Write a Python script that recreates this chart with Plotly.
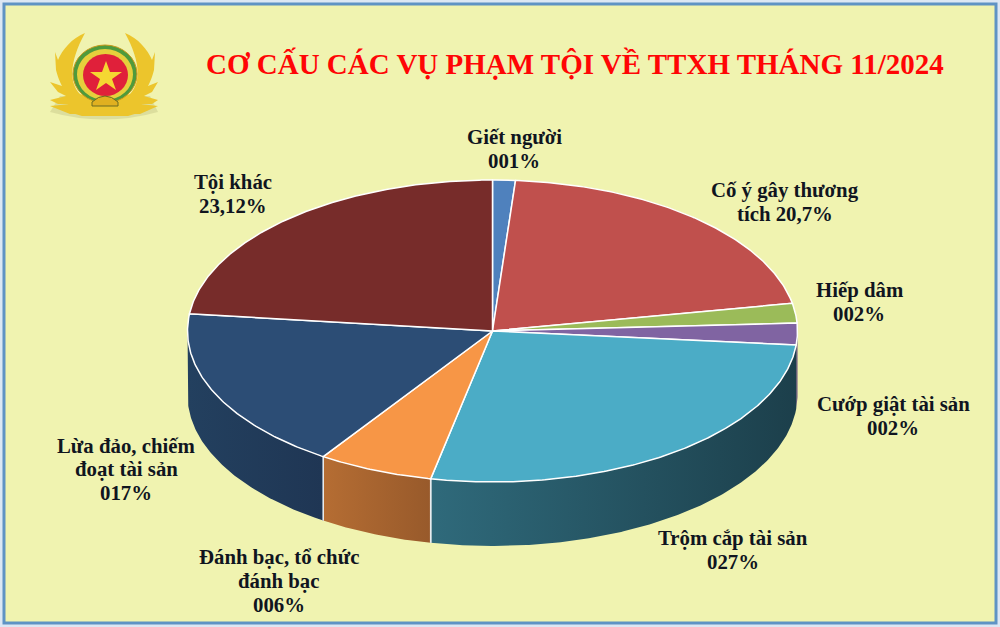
import math
import plotly.graph_objects as go

categories = ["Giết người", "Cố ý gây thương tích", "Hiếp dâm", "Cướp giật tài sản",
              "Trộm cắp tài sản", "Đánh bạc, tổ chức đánh bạc", "Lừa đảo, chiếm đoạt tài sản", "Tội khác"]
values = [1.2, 20.8, 2.1, 2.3, 26.7, 6.1, 17.4, 23.12]
label_texts = ["Giết người<br>001%", "Cố ý gây thương<br>tích 20,7%", "Hiếp dâm<br>002%",
               "Cướp giật tài sản<br>002%", "Trộm cắp tài sản<br>027%",
               "Đánh bạc, tổ chức<br>đánh bạc<br>006%", "Lừa đảo, chiếm<br>đoạt tài sản<br>017%",
               "Tội khác<br>23,12%"]
title_text = "CƠ CẤU CÁC VỤ PHẠM TỘI VỀ TTXH THÁNG 11/2024"

top_colors = ["#4f81bd", "#c0504d", "#9bbb59", "#8064a2", "#4bacc6", "#f79646", "#2c4d75", "#772c2a"]
side_left = ["#3a5f8c", "#8e3b39", "#72893f", "#5f4a78", "#2f6a7b", "#b56d33", "#23405f", "#5a2120"]
side_right = ["#3a5f8c", "#8e3b39", "#72893f", "#5f4a78", "#1c3f4b", "#985a2b", "#1f3654", "#5a2120"]
label_pos = [(514, 137), (785, 190), (859, 290), (893, 404), (733, 538), (279, 557), (126, 445), (233, 182)]
LINE_STEP = 23.5

CX, CY, RX, RY, DEPTH = 492.5, 331, 305, 151, 64
BG = "#f0f3b0"


def pt(t, dy=0):
    a = math.radians(t)
    return CX + RX * math.sin(a), CY - RY * math.cos(a) + dy


def arc(t0, t1, dy=0):
    n = max(2, int(abs(t1 - t0) * 2) + 1)
    return [pt(t0 + (t1 - t0) * i / (n - 1), dy) for i in range(n)]


fig = go.Figure()
total = sum(values)
edges = [0]
for v in values:
    edges.append(edges[-1] + v / total * 360)

# side walls
for i in range(len(values)):
    a0, a1 = max(edges[i], 90), min(edges[i + 1], 270)
    if a1 <= a0:
        continue
    top = arc(a0, a1)
    bot = arc(a1, a0, DEPTH)
    ring = top + bot + [top[0]]
    fig.add_trace(go.Scatter(
        x=[p[0] for p in ring], y=[p[1] for p in ring], mode="lines", fill="toself",
        line=dict(color="rgba(255,255,255,0)", width=0),
        fillgradient=dict(type="horizontal", colorscale=[[0, side_left[i]], [1, side_right[i]]]),
        hoverinfo="skip", showlegend=False))
    for t in (a0, a1):
        if 100 < t < 265:
            p0, p1 = pt(t), pt(t, DEPTH)
            fig.add_trace(go.Scatter(x=[p0[0], p1[0]], y=[p0[1], p1[1]], mode="lines",
                                     line=dict(color="#e8ecef", width=1.5),
                                     hoverinfo="skip", showlegend=False))

# top face
for i in range(len(values)):
    ring = [(CX, CY)] + arc(edges[i], edges[i + 1]) + [(CX, CY)]
    fig.add_trace(go.Scatter(
        x=[p[0] for p in ring], y=[p[1] for p in ring], mode="lines", fill="toself",
        fillcolor=top_colors[i], line=dict(color="#ffffff", width=1.5),
        name=categories[i], text=f"{categories[i]}: {values[i]}%", hoverinfo="text",
        showlegend=False))

annotations = [dict(x=575, y=63, text=f"<b>{title_text}</b>", showarrow=False, xref="x", yref="y",
                    font=dict(family="Liberation Serif", size=29, color="#ff0505"))]
for (x, y), txt in zip(label_pos, label_texts):
    for k, line in enumerate(txt.split("<br>")):
        annotations.append(dict(x=x, y=y + k * LINE_STEP, text=f"<b>{line}</b>", showarrow=False,
                                xref="x", yref="y",
                                font=dict(family="Liberation Serif", size=20.8, color="#10151f")))

GOLD, GOLD_D = "#ecc52c", "#c9981a"
shapes = [
    dict(type="rect", x0=4, y0=4, x1=996, y1=623, fillcolor=BG, line=dict(color="#5f93c4", width=3), layer="below"),
    # soft shadow
    dict(type="path", path="M50,112 Q104,127 158,112 L150,96 L60,96 Z", fillcolor="rgba(150,150,90,0.22)",
         line=dict(width=0)),
    # laurel left
    dict(type="path", path="M85,33 C72,38 62,50 58,60 L55,52 L56,70 C58,78 60,82 62,86 L50,82 L58,92 L66,96 "
                           "L50,100 L58,104 L70,104 L50,106 L70,114 L96,114 L98,100 L80,94 "
                           "C70,84 68,64 85,33 Z", fillcolor=GOLD, line=dict(width=0)),
    # laurel right
    dict(type="path", path="M125,33 C138,38 148,50 152,60 L155,52 L154,70 C152,78 150,82 148,86 L158,82 L152,92 L144,96 "
                           "L158,100 L152,104 L140,104 L158,106 L140,114 L114,114 L112,100 L130,94 "
                           "C140,84 142,64 125,33 Z", fillcolor=GOLD, line=dict(width=0)),
    # base
    dict(type="path", path="M78,96 L132,96 L148,110 L128,116 L82,116 L62,110 Z", fillcolor=GOLD, line=dict(width=0)),
    # rings
    dict(type="circle", x0=73, y0=45, x1=137, y1=103, fillcolor="#4f9a3c", line=dict(color=GOLD_D, width=1)),
    dict(type="circle", x0=77, y0=49, x1=133, y1=100, fillcolor="#e6cf3c", line=dict(width=0)),
    dict(type="circle", x0=83, y0=54, x1=128, y1=96, fillcolor="#e0203a", line=dict(width=0)),
    # star
    dict(type="path", path="M106,61 L110,72 L122,72 L112,79 L116,90 L106,83 L96,90 L100,79 L90,72 L102,72 Z",
         fillcolor="#f5d732", line=dict(width=0)),
    dict(type="path", path="M92,102 Q105,90 118,102 L118,106 L92,106 Z", fillcolor="#e0b020",
         line=dict(color="#6a6a20", width=1)),
]

fig.update_layout(
    width=1000, height=627, autosize=False, margin=dict(l=0, r=0, t=0, b=0),
    paper_bgcolor="#dce7f4", plot_bgcolor="rgba(0,0,0,0)", showlegend=False,
    xaxis=dict(range=[0, 1000], visible=False, fixedrange=True),
    yaxis=dict(range=[627, 0], visible=False, fixedrange=True),
    annotations=annotations, shapes=shapes)
fig.write_html("out.html", config=dict(displayModeBar=False),
               post_script="document.body.style.margin='0';document.documentElement.style.overflow='hidden';")
